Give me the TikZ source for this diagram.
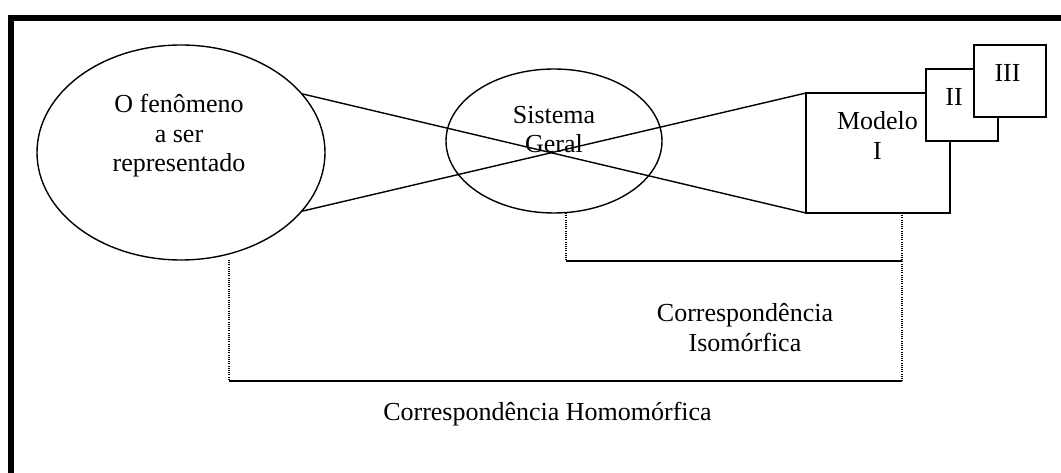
\documentclass[tikz,border=0pt]{standalone}
\usepackage{fontspec}
\setmainfont{Liberation Serif}
\usetikzlibrary{shapes.geometric}
\begin{document}
\begin{tikzpicture}[x=1pt,y=-1pt,
  every node/.style={inner sep=0pt, outer sep=0pt},
  shape line/.style={line width=1.4pt},
  oval/.style={draw, ellipse, shape line},
  panel/.style={draw, rectangle, fill=white, shape line},
  label text/.style={font=\fontsize{26}{29.5}\selectfont, align=center, anchor=base},
  guide/.style={line width=1.1pt, dash pattern=on 1pt off 1.2pt},
  bar/.style={line width=1.5pt},
  frame/.style={line width=6pt, line join=miter}]

\useasboundingbox (0,0) rectangle (1061,473);

% heavy frame along the top and the left side
\draw[frame] (1061,18) -- (11,18) -- (11,473);

% phenomenon and general system
\node[oval, minimum width=288, minimum height=215] (fen) at (181,152.5) {};
\node[oval, minimum width=216, minimum height=144] (sis) at (554,141) {};

% stacked models I, II, III
\node[panel, minimum width=144, minimum height=120] (mod) at (878,153) {};
\node[panel, minimum width=72, minimum height=72] (m2) at (962,105) {};
\node[panel, minimum width=72, minimum height=72] (m3) at (1010,81) {};

% crossing projection lines
\draw[shape line] (fen.26) -- (mod.south west);
\draw[shape line] (fen.-26) -- (mod.north west);

% correspondence brackets
\coordinate (iso-l) at (566,261);
\coordinate (iso-r) at (902,261);
\coordinate (hom-l) at (229,381);
\coordinate (hom-r) at (902,381);
\draw[guide] (sis.south -| iso-l) -- (iso-l);
\draw[guide] (mod.south -| hom-r) -- (hom-r);
\draw[guide] (fen.south -| hom-l) -- (hom-l);
\draw[bar] (iso-l) -- (iso-r);
\draw[bar] (hom-l) -- (hom-r);

% labels (base anchor sits on the last line)
\node[label text] (fen-t) at (179,172) {O fenômeno\\a ser\\representado};
\node[label text] (sis-t) at (554,153) {Sistema\\Geral};
\node[label text] (mod-t) at (877.5,159.5) {Modelo\\I};
\node[label text] (m2-t) at (954,106) {II};
\node[label text] (m3-t) at (1007.5,81.5) {III};
\node[label text] (iso-t) at (745,351.5) {Correspondência\\Isomórfica};
\node[label text] (hom-t) at (547.5,420) {Correspondência Homomórfica};
\end{tikzpicture}
\end{document}
